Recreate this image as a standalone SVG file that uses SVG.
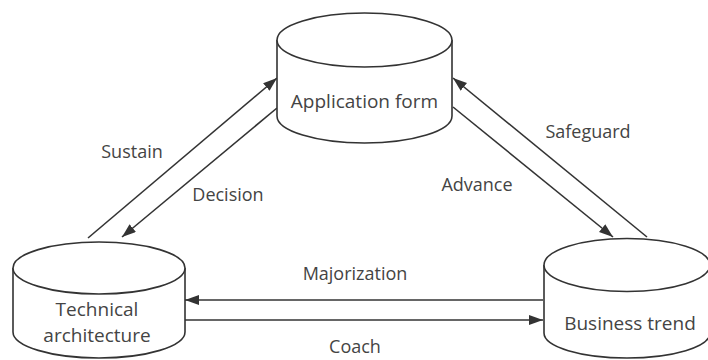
<svg xmlns="http://www.w3.org/2000/svg" width="708" height="360" viewBox="0 0 708 360">
<style>
.shape{fill:#fff;stroke:#333;stroke-width:1.6}
.edge{stroke:#333;stroke-width:1.6;fill:none;marker-end:url(#ah)}
text{font-family:"Open Sans","Noto Sans","Liberation Sans",sans-serif;font-size:18px;fill:#444;text-anchor:middle}
.node text{font-size:19px}
</style>
<defs>
<marker id="ah" markerUnits="userSpaceOnUse" markerWidth="16" markerHeight="12" refX="14" refY="5" orient="auto">
<path d="M0,0 L14,5 L0,10 Z" fill="#333"/>
</marker>
</defs>
<rect width="708" height="360" fill="#fff"/>
<g id="connectors">
<line class="edge" x1="88" y1="238" x2="277" y2="78"/>
<line class="edge" x1="277" y1="108" x2="122" y2="237"/>
<line class="edge" x1="647" y1="237" x2="453" y2="78"/>
<line class="edge" x1="453" y1="107" x2="613" y2="237"/>
<line class="edge" x1="543" y1="300" x2="185" y2="300"/>
<line class="edge" x1="185" y1="320" x2="543" y2="320"/>
<text x="132" y="158">Sustain</text>
<text x="228" y="201">Decision</text>
<text x="588" y="138">Safeguard</text>
<text x="477" y="191">Advance</text>
<text x="355" y="280">Majorization</text>
<text x="355" y="353">Coach</text>
</g>
<g id="application-form" class="node">
<path class="shape" d="M277,40 L277,116 A87.5,27 0 0 0 452,116 L452,40"/>
<ellipse class="shape" cx="364.5" cy="40" rx="87.5" ry="27"/>
<text x="364.5" y="108">Application form</text>
</g>
<g id="technical-architecture" class="node">
<path class="shape" d="M13,268 L13,332 A86,26 0 0 0 185,332 L185,268"/>
<ellipse class="shape" cx="99" cy="268" rx="86" ry="26"/>
<text x="97" y="316">Technical</text>
<text x="97" y="342">architecture</text>
</g>
<g id="business-trend" class="node">
<path class="shape" d="M544,265 L544,333 A83,25 0 0 0 710,333 L710,265"/>
<ellipse class="shape" cx="627" cy="265" rx="83" ry="26.5"/>
<text x="630" y="330">Business trend</text>
</g>
</svg>
